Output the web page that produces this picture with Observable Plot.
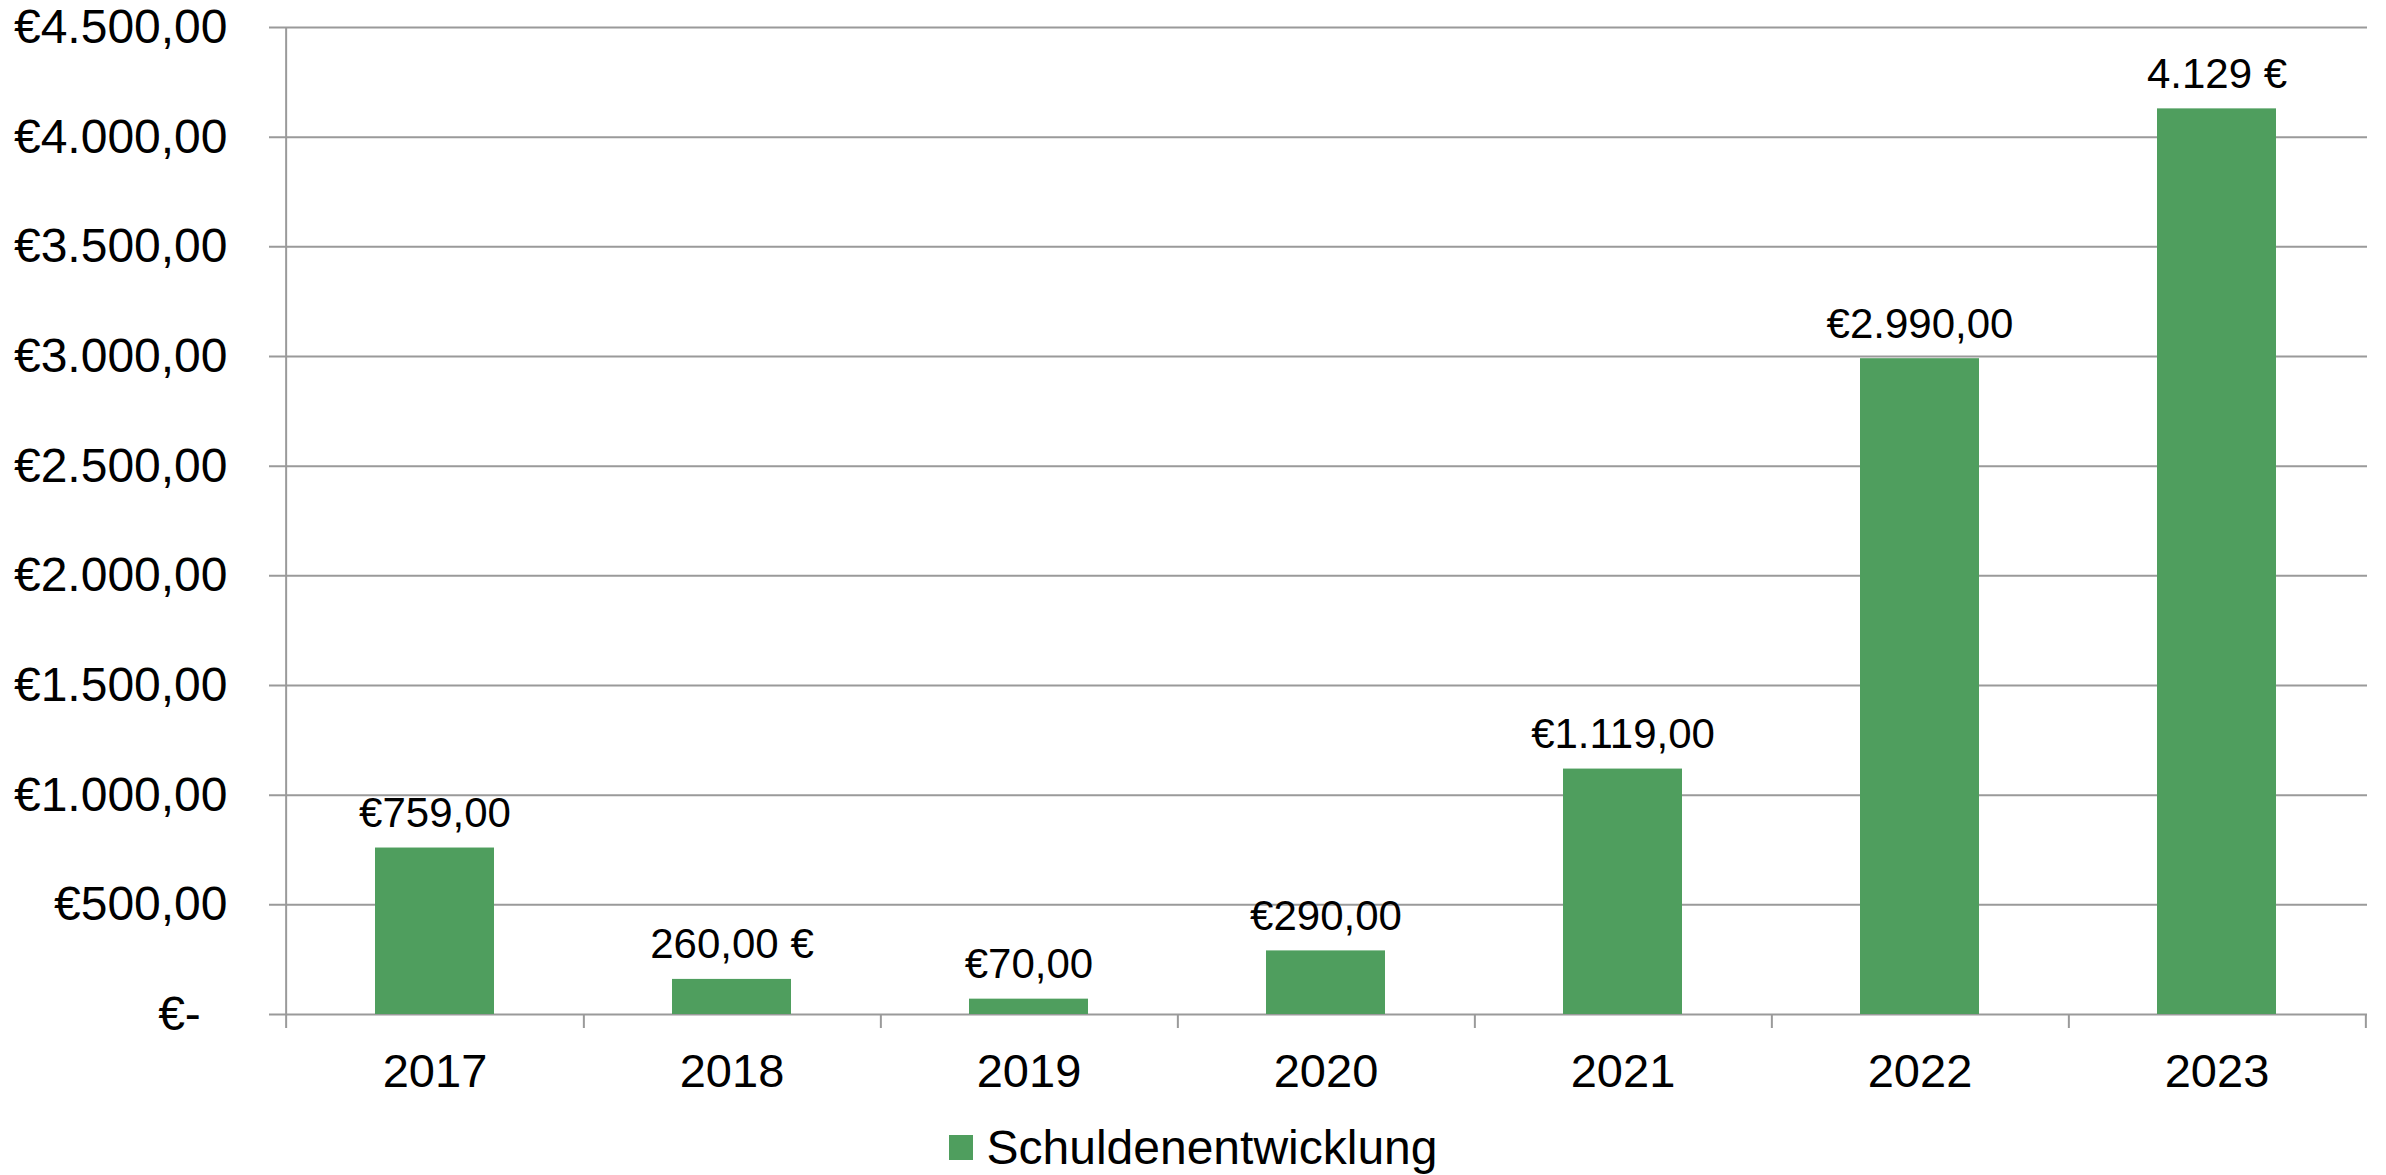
<!DOCTYPE html>
<html>
<head>
<meta charset="utf-8">
<script src="https://cdn.jsdelivr.net/npm/d3@7"></script>
<script src="https://cdn.jsdelivr.net/npm/@observablehq/plot@0.6"></script>
<style>
  html, body { margin: 0; padding: 0; background: #fff; overflow: hidden; }
  body { font-family: "Liberation Sans", Arial, sans-serif; }
  #legend { display: flex; justify-content: center; align-items: center; height: 55px; padding-top: 10px;
            font-size: 48px; color: #000; }
  #legend .sw { display: inline-block; width: 24px; height: 25px; background: #4F9E5E; margin-right: 14px; }
</style>
</head>
<body>
<div id="chart"></div>
<div id="legend"><span class="sw"></span><span id="legendText"></span></div>
<script>
// ---- data ----
const years = ["2017", "2018", "2019", "2020", "2021", "2022", "2023"];
const debts = [759, 160, 70, 290, 1119, 2990, 4129];
const barLabels = ["€759,00", "260,00 €", "€70,00", "€290,00", "€1.119,00", "€2.990,00", "4.129 €"];
const yTicks = [0, 500, 1000, 1500, 2000, 2500, 3000, 3500, 4000, 4500];
const yTickLabels = ["€-\u2007", "€500,00", "€1.000,00", "€1.500,00", "€2.000,00", "€2.500,00",
                     "€3.000,00", "€3.500,00", "€4.000,00", "€4.500,00"];
const seriesName = "Schuldenentwicklung";

// ---- layout ----
const W = 2386, H = 1110;
const mL = 283, mR = 19, mT = 27, mB = 96;
const step = (W - mL - mR) / years.length;
const green = "#4F9E5E";
const grid = "#9a9a9a";

const data = years.map((y, i) => ({year: y, value: debts[i], label: barLabels[i]}));

const chart = Plot.plot({
  width: W,
  height: H,
  marginLeft: mL,
  marginRight: mR,
  marginTop: mT,
  marginBottom: mB,
  style: {fontFamily: "'Liberation Sans', Arial, sans-serif", fontSize: "47px", color: "#000", background: "#fff"},
  x: {domain: years, paddingInner: 0.6, paddingOuter: 0.3, label: null},
  y: {domain: [0, 4500], label: null},
  marks: [
    Plot.ruleY(yTicks, {stroke: grid, strokeWidth: 2, insetLeft: -14}),
    Plot.ruleX([years[0]], {stroke: grid, strokeWidth: 2, dx: -step / 2, insetBottom: -14}),
    Plot.ruleX(years, {x: d => d, y1: () => 0, y2: () => 0, stroke: grid, strokeWidth: 2, dx: step / 2, insetBottom: -14}),
    Plot.barY(data, {x: "year", y: "value", fill: green}),
    Plot.text(data, {x: "year", y: "value", text: "label", lineAnchor: "bottom", dy: -21, fontSize: 42, fill: "#000"}),
    Plot.axisY({ticks: yTicks, tickFormat: d => yTickLabels[yTicks.indexOf(d)], tickSize: 0, tickPadding: 56, fontSize: 48, label: null}),
    Plot.axisX({tickSize: 0, tickPadding: 39, fontSize: 47, label: null})
  ]
});
document.getElementById("chart").appendChild(chart);
document.getElementById("legendText").textContent = seriesName;
</script>
</body>
</html>
